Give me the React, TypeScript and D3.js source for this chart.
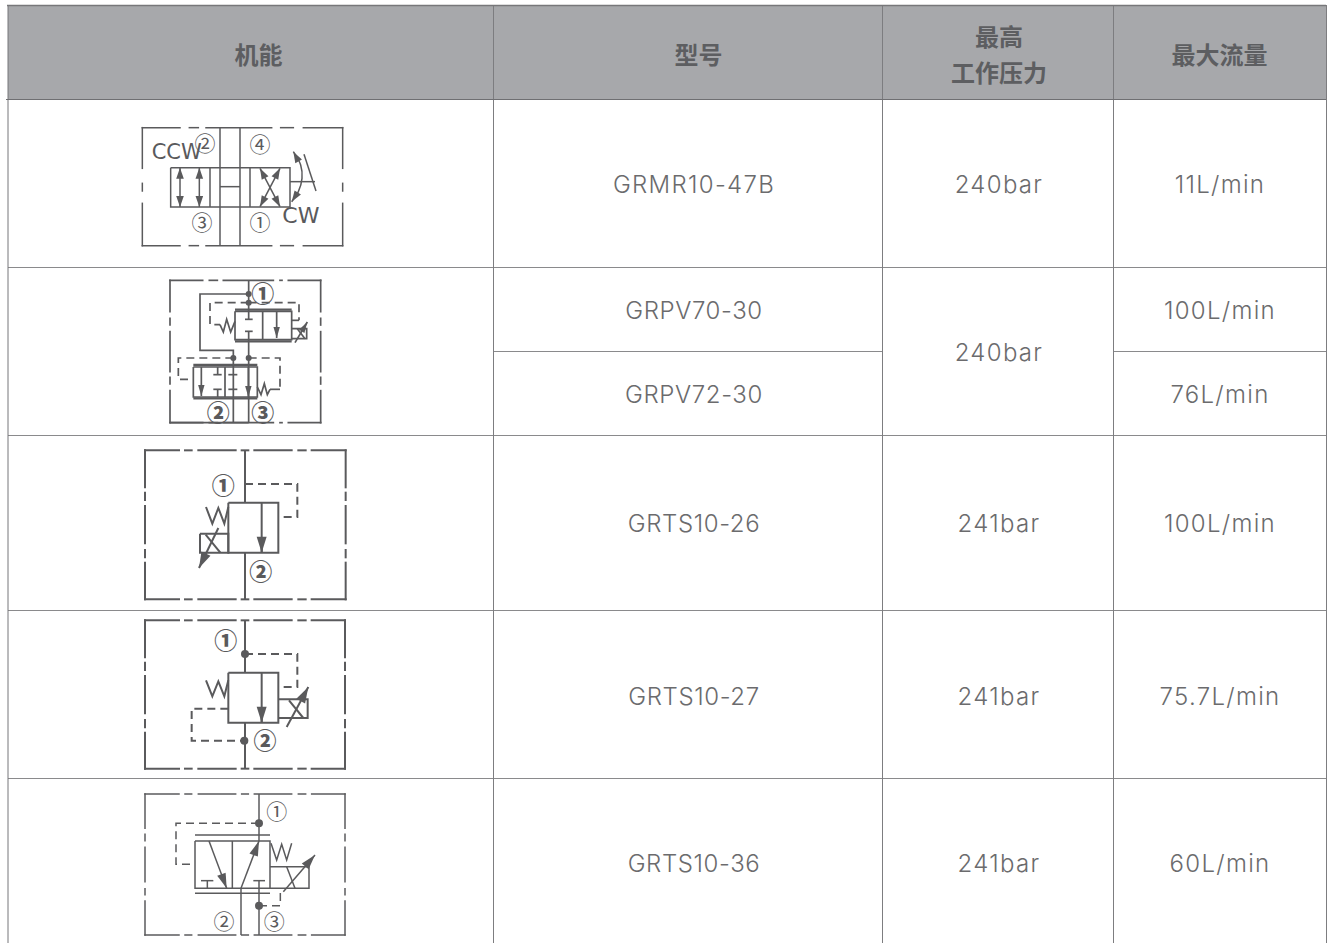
import React from "react";
import * as d3 from "d3";

const W = 1329, H = 943;
const headers = ["机能", "型号", ["最高", "工作压力"], "最大流量"];
const colEdges = [8, 493, 882, 1113, 1326];
const rowEdges = [5, 99, 267, 435, 610, 778, 943];
const models = [["GRMR10-47B"], ["GRPV70-30", "GRPV72-30"], ["GRTS10-26"], ["GRTS10-27"], ["GRTS10-36"]];
const pressures = ["240bar", "240bar", "241bar", "241bar", "241bar"];
const flows = [["11L/min"], ["100L/min", "76L/min"], ["100L/min"], ["75.7L/min"], ["60L/min"]];

type P = [number, number];
interface Sym {
  origin: P; box: [number, number, number, number]; hGaps: P[]; vGaps: P[]; sw: number; hd: [number, number]; dotR: number;
  solid: P[][]; dashed: P[][]; thick?: P[][]; arrows: [P, P, boolean?][]; dots: P[]; curves?: P[][];
  labels: [string, number, number, number, boolean?][];
}
// Drawing geometry is in 3x crop units relative to each symbol's origin.
const longGaps: P[] = [[132, 150], [170, 190], [302, 320], [340, 358], [470, 490], [512, 530]];
const symbols: Sym[] = [
  {
    origin: [130, 115], box: [37, 38, 638, 392], hGaps: [[150, 178], [205, 228], [425, 452], [490, 520]], vGaps: [[160, 205], [228, 265]], sw: 1.5, hd: [11, 3.8], dotR: 3,
    solid: [[[270, 38], [270, 392]], [[330, 38], [330, 392]], [[122, 158], [480, 158], [480, 276], [122, 276], [122, 158]], [[240, 158], [240, 276]], [[360, 158], [360, 276]], [[270, 215], [330, 215]], [[480, 200], [555, 200]], [[522, 118], [558, 228]]],
    dashed: [], dots: [],
    arrows: [[[150, 158], [150, 276], true], [[208, 158], [208, 276], true], [[390, 160], [450, 275], true], [[450, 160], [390, 275], true]],
    curves: [[[490, 110], [512, 150], [516, 190], [505, 230], [485, 260]]],
    labels: [["CCW", 65, 133, 21], ["②", 225, 82, 21], ["④", 390, 84, 21], ["③", 216, 318, 21], ["①", 390, 318, 21], ["CW", 457, 325, 22]],
  },
  {
    origin: [160, 272], box: [30, 25, 482, 452], hGaps: [[128, 148], [172, 190], [340, 360], [366, 385]], vGaps: [[119, 139], [159, 179], [299, 316], [336, 356]], sw: 1.7, hd: [11, 3.2], dotR: 3,
    solid: [[[266, 25], [266, 142]], [[255, 142], [278, 142]], [[255, 178], [278, 178]], [[266, 178], [266, 452]], [[266, 66], [120, 66], [120, 235], [220, 235], [220, 452]], [[225, 118], [395, 118], [395, 203], [225, 203], [225, 118]], [[308, 118], [308, 203]], [[395, 145], [417, 145]], [[395, 170], [440, 170], [440, 200], [395, 200]], [[412, 170], [435, 200]], [[100, 285], [292, 285], [292, 375], [100, 375], [100, 285]], [[195, 285], [195, 375]], [[173, 285], [173, 308]], [[160, 308], [185, 308]], [[173, 352], [173, 375]], [[160, 352], [185, 352]], [[205, 308], [232, 308]], [[205, 352], [232, 352]],
      [[180, 158], [190, 180], [200, 142], [212, 180], [225, 148]], [[292, 345], [303, 368], [313, 335], [322, 368], [330, 352]], [[330, 352], [360, 352]], [[30, 452], [266, 452]]],
    thick: [[[225, 113], [395, 113]], [[225, 208], [395, 208]], [[100, 279], [292, 279]], [[100, 379], [292, 379]]],
    dashed: [[[266, 92], [150, 92], [150, 158], [180, 158]], [[266, 92], [417, 92], [417, 145]], [[220, 258], [55, 258], [55, 322], [100, 322]], [[266, 258], [360, 258], [360, 352]]],
    dots: [[266, 66], [266, 92], [220, 258], [266, 258]],
    arrows: [[[350, 118], [350, 198]], [[405, 212], [442, 150]], [[124, 285], [124, 372]], [[265, 285], [265, 375]]],
    labels: [["①", 308, 60, 23, true], ["②", 175, 418, 23, true], ["③", 308, 418, 23, true]],
  },
  {
    origin: [135, 442], box: [30, 25, 632, 472], hGaps: longGaps, vGaps: [[136, 152], [174, 192], [304, 324], [346, 362]], sw: 2, hd: [16, 5], dotR: 4,
    solid: [[[330, 25], [330, 182]], [[330, 332], [330, 472]], [[280, 182], [430, 182], [430, 332], [280, 332], [280, 182]], [[380, 182], [380, 332]], [[195, 275], [280, 275], [280, 332], [195, 332], [195, 275]], [[212, 278], [256, 332]], [[213, 195], [232, 245], [250, 198], [268, 245], [280, 195]]],
    dashed: [[[330, 126], [487, 126], [487, 225], [430, 225]]], dots: [],
    arrows: [[[380, 285], [380, 332]], [[250, 258], [192, 378]]],
    labels: [["①", 265, 125, 23, true], ["②", 377, 385, 23, true]],
  },
  {
    origin: [135, 612], box: [30, 25, 630, 470], hGaps: longGaps, vGaps: [[136, 152], [174, 192], [304, 324], [346, 362]], sw: 2, hd: [16, 5], dotR: 4,
    solid: [[[330, 25], [330, 182]], [[330, 332], [330, 470]], [[280, 182], [430, 182], [430, 332], [280, 332], [280, 182]], [[380, 182], [380, 332]], [[430, 262], [518, 262], [518, 318], [430, 318]], [[462, 265], [505, 318]], [[213, 205], [232, 253], [250, 208], [268, 253], [280, 205]]],
    dashed: [[[330, 126], [487, 126], [487, 225], [430, 225]], [[280, 290], [170, 290], [170, 386], [328, 386]]],
    dots: [[330, 126], [328, 386]],
    arrows: [[[380, 285], [380, 332]], [[455, 345], [520, 225]]],
    labels: [["①", 272, 81, 23, true], ["②", 390, 381, 23, true]],
  },
  {
    origin: [135, 785], box: [30, 27, 630, 450], hGaps: longGaps, vGaps: [[130, 148], [167, 187], [290, 311], [329, 348]], sw: 1.5, hd: [15, 4.5], dotR: 4,
    solid: [[[372, 27], [372, 168]], [[180, 150], [405, 150]], [[180, 325], [405, 325]], [[180, 168], [405, 168], [405, 310], [180, 310], [180, 168]], [[292, 168], [292, 310]], [[318, 310], [318, 450]], [[198, 287], [235, 287]], [[217, 287], [217, 310]], [[355, 287], [390, 287]], [[372, 287], [372, 450]], [[405, 245], [522, 245], [522, 310], [405, 310]], [[455, 245], [480, 310]], [[408, 175], [425, 225], [440, 178], [455, 225], [470, 175]]],
    dashed: [[[372, 115], [123, 115], [123, 238], [180, 238]], [[372, 362], [436, 362], [436, 312]]],
    dots: [[372, 115], [372, 362]],
    arrows: [[[222, 168], [275, 310]], [[318, 310], [372, 168]], [[445, 320], [540, 210]]],
    labels: [["①", 425, 76, 21], ["②", 267, 404, 21], ["③", 418, 404, 21]],
  },
];

const INK = "#5a5a5c";
const line = d3.line();
const smooth = d3.line().curve(d3.curveCatmullRom);
const head = (tip: P, tail: P, hd: [number, number]): string => {
  const a = Math.atan2(tip[1] - tail[1], tip[0] - tail[0]);
  const [len, w] = hd;
  const bx = tip[0] - len * Math.cos(a), by = tip[1] - len * Math.sin(a);
  const nx = -Math.sin(a) * w, ny = Math.cos(a) * w;
  return `M${tip[0]},${tip[1]}L${bx + nx},${by + ny}L${bx - nx},${by - ny}Z`;
};
const spans = (a: number, b: number, gaps: P[]): P[] => {
  const out: P[] = [];
  let c = a;
  for (const [g0, g1] of gaps) { out.push([c, g0]); c = g1; }
  out.push([c, b]);
  return out;
};

function Symbol({ s }: { s: Sym }) {
  const sx = d3.scaleLinear().domain([0, 3]).range([s.origin[0], s.origin[0] + 1]);
  const sy = d3.scaleLinear().domain([0, 3]).range([s.origin[1], s.origin[1] + 1]);
  const m = (p: P): P => [sx(p[0]), sy(p[1])];
  const [x0, y0, x1, y1] = s.box;
  const frame: P[][] = [];
  spans(x0, x1, s.hGaps).forEach(([a, b]) => { frame.push([[a, y0], [b, y0]], [[a, y1], [b, y1]]); });
  spans(y0, y1, s.vGaps).forEach(([a, b]) => { frame.push([[x0, a], [x0, b]], [[x1, a], [x1, b]]); });
  return (
    <g fill="none" stroke={INK} strokeWidth={s.sw}>
      {frame.map((p, i) => <path key={"f" + i} d={line(p.map(m))!} strokeLinecap="square" />)}
      {s.solid.map((p, i) => <path key={"s" + i} d={line(p.map(m))!} />)}
      {(s.thick || []).map((p, i) => <path key={"t" + i} d={line(p.map(m))!} strokeWidth={2.4} />)}
      {s.dashed.map((p, i) => <path key={"d" + i} d={line(p.map(m))!} strokeDasharray="8 5" />)}
      {(s.curves || []).map((p, i) => {
        const q = p.map(m);
        return <g key={"c" + i}>
          <path d={smooth(q)!} />
          <path d={head(q[0], q[1], s.hd)} fill={INK} stroke="none" />
          <path d={head(q[q.length - 1], q[q.length - 2], s.hd)} fill={INK} stroke="none" />
        </g>;
      })}
      {s.arrows.map(([a, b, both], i) => {
        const A = m(a), B = m(b);
        return <g key={"a" + i}>
          <path d={line([A, B])!} />
          <path d={head(B, A, s.hd)} fill={INK} stroke="none" />
          {both && <path d={head(A, B, s.hd)} fill={INK} stroke="none" />}
        </g>;
      })}
      {s.dots.map((p, i) => { const q = m(p); return <circle key={"o" + i} cx={q[0]} cy={q[1]} r={s.dotR} fill={INK} stroke="none" />; })}
      {s.labels.map(([t, x, y, size, bold], i) => {
        const q = m([x, y]);
        const circled = "①②③④".includes(t);
        return <text key={"l" + i} x={q[0]} y={q[1]} stroke="none" fill={INK} fontSize={size}
          fontWeight={bold ? 900 : 400} textAnchor={circled ? "middle" : "start"} dominantBaseline={circled ? "central" : "auto"}
          fontFamily={circled ? "'Noto Sans CJK SC'" : "'DejaVu Sans'"}>{t}</text>;
      })}
    </g>
  );
}

export default function App() {
  const mid = (a: number, b: number) => (a + b) / 2;
  const bodyFont = { fontFamily: "Inter, 'Open Sans', sans-serif", fontSize: 24, fontWeight: 300, fill: "#6b6b6d", letterSpacing: 1.3, textAnchor: "middle" as const, dominantBaseline: "central" as const };
  const headFont = { fontFamily: "'Noto Sans CJK SC'", fontSize: 24, fontWeight: 700, fill: "#5d5e61", textAnchor: "middle" as const, dominantBaseline: "central" as const };
  const L = colEdges[0], R = colEdges[4];
  return (
    <svg width={W} height={H} viewBox={`0 0 ${W} ${H}`} style={{ position: "absolute", left: 0, top: 0, display: "block", background: "#fff" }}>
      <rect x={L} y={rowEdges[0]} width={R - L} height={rowEdges[1] - rowEdges[0]} fill="#a7a8ab" />
      {headers.map((h, i) => {
        const cx = mid(colEdges[i], colEdges[i + 1]) + (i === 0 ? 8 : i === 1 ? 11 : i === 2 ? 1.5 : 0);
        const cy = mid(rowEdges[0], rowEdges[1]);
        return Array.isArray(h)
          ? h.map((t, j) => <text key={t} x={cx} y={cy + (j === 0 ? -17 : 19)} {...headFont}>{t}</text>)
          : <text key={h} x={cx} y={cy + 1} {...headFont}>{h}</text>;
      })}
      {rowEdges.slice(2, 6).map((y, i) => (
        <line key={i} x1={L} x2={R} y1={y + 0.5} y2={y + 0.5} stroke="#8a8a8c" />
      ))}
      <line x1={colEdges[1]} x2={colEdges[2]} y1={351.5} y2={351.5} stroke="#8a8a8c" />
      <line x1={colEdges[3]} x2={R} y1={351.5} y2={351.5} stroke="#8a8a8c" />
      <line x1={L} x2={L} y1={rowEdges[0]} y2={H} stroke="#77777a" />
      {colEdges.slice(1).map((x) => <line key={x} x1={x + 0.5} x2={x + 0.5} y1={rowEdges[0]} y2={H} stroke="#7d7d80" />)}
      <line x1={L - 1} x2={R} y1={rowEdges[0] + 0.5} y2={rowEdges[0] + 0.5} stroke="#77777a" strokeWidth={1.4} />
      <line x1={L - 2} x2={R} y1={rowEdges[1] + 0.5} y2={rowEdges[1] + 0.5} stroke="#6f6f72" strokeWidth={1.2} />
      {symbols.map((s, i) => <Symbol key={i} s={s} />)}
      {models.map((ms, i) => {
        const a = rowEdges[i + 1], b = rowEdges[i + 2];
        const h = (b - a) / ms.length;
        const nudge = i === 4 ? 3 : i === 3 ? 2 : 1;
        return <g key={i}>
          {ms.map((t, j) => <text key={t} x={694} y={a + h * (j + 0.5) + nudge} {...bodyFont} letterSpacing={i === 0 ? 1.3 : 0.6}>{t}</text>)}
          <text x={999} y={mid(a, b) + nudge} {...bodyFont}>{pressures[i]}</text>
          {flows[i].map((t, j) => <text key={t + j} x={1220} y={a + h * (j + 0.5) + nudge} {...bodyFont}>{t}</text>)}
        </g>;
      })}
    </svg>
  );
}
